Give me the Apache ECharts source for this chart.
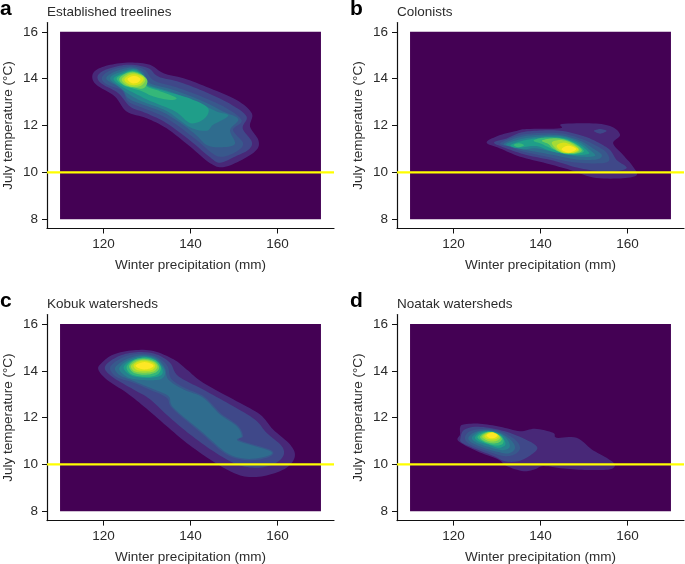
<!DOCTYPE html>
<html>
<head>
<meta charset="utf-8">
<title>Treeline density panels</title>
<script src="https://cdn.jsdelivr.net/npm/echarts@6/dist/echarts.min.js"></script>
<style>
  html, body { margin: 0; padding: 0; background: #fff; }
  #chart { width: 685px; height: 564px; }
</style>
</head>
<body>
<div id="chart"></div>
<script>
// -- Tick labels and the rectangle the density was evaluated on --
const xTicks = [120, 140, 160];
const yTicks = [8, 10, 12, 14, 16];
const densityXRange = [110, 170];
const densityYRange = [8, 16];
const thresholdTemp = 10;

// viridis bands, index 0 is the lowest density
const bandColors = ['#440154', '#482878', '#3f4889', '#38588c', '#2f6c8e', '#26828e',
  '#1f9e89', '#35b779', '#6ece58', '#a5db36', '#d8e219', '#fde725'];

// -- Contours: [precipitation mm, temperature C] --
const treelineLevels = [1, 2, 3, 4, 5, 6, 7, 8, 9, 10, 11];
const treelineContours = [
  [[117.4,14.09],[118.4,14.38],[121.5,14.59],[126.1,14.69],[130.7,14.59],[133.8,14.23],[138.4,14.02],[144.5,13.59],[150.6,13.09],[154.1,12.52],[153.7,11.95],[155.6,11.38],[155.2,10.96],[151.8,10.53],[147.5,10.22],[144.5,10.39],[139.9,11.1],[134.5,11.88],[129.9,12.31],[125.3,12.6],[122.6,13.24],[118.4,13.73]],
  [[118.6,14.06],[119.6,14.3],[122.3,14.49],[126.1,14.6],[130.3,14.45],[132.6,14.09],[137.6,13.85],[143.7,13.41],[149.5,12.88],[152.9,12.38],[152,11.88],[154.1,11.31],[153.3,10.96],[150.2,10.67],[146.8,10.41],[144.5,10.64],[139.9,11.36],[134.5,12.1],[129.9,12.52],[126.1,12.81],[123.4,13.38],[119.6,13.78]],
  [[119.6,14.02],[120.9,14.29],[123.4,14.46],[126.5,14.53],[129.5,14.38],[131.6,13.92],[136.8,13.63],[142.9,13.21],[148.3,12.74],[151.8,12.21],[149.8,11.81],[152.1,11.24],[150.6,10.89],[147.5,10.67],[145.2,10.79],[140.6,11.5],[134.5,12.31],[129.2,12.74],[125.7,13.02],[124.2,13.49],[120.7,13.76]],
  [[120.6,14.02],[122.1,14.26],[124.6,14.42],[126.9,14.47],[129.2,14.26],[130.7,13.81],[136.1,13.52],[142.2,13.09],[147.5,12.6],[151,12.27],[149.1,11.81],[150.2,11.21],[146.8,11.07],[143.7,11.17],[140.6,11.7],[134.5,12.49],[129.2,12.88],[125.7,13.16],[124.2,13.59],[121.9,13.81]],
  [[121.5,14],[123,14.23],[126.9,14.42],[129,14.2],[130.3,13.75],[135.3,13.45],[141.4,13],[146,12.6],[148.7,12.42],[145.2,12.03],[143.7,11.78],[139.9,11.92],[134.5,12.62],[129.2,13],[126.1,13.3],[123.4,13.67]],
  [[122.3,13.99],[123.9,14.2],[126.9,14.38],[128.9,14.16],[130,13.72],[134.5,13.45],[139.9,13.15],[144,12.75],[143.2,12.3],[140,12.1],[136.5,12.6],[130.7,13.05],[126.9,13.4],[123.9,13.7]],
  [[123,13.99],[124.6,14.2],[126.9,14.33],[129.2,14.12],[129.9,13.69],[132.6,13.49],[136.7,13.19],[135.3,13.09],[131.5,13.24],[128.4,13.49],[124.9,13.69]],
  [[123.6,13.98],[124.9,14.2],[126.9,14.29],[129.2,14.12],[130.1,13.88],[129.2,13.59],[126.9,13.62],[124.7,13.73]],
  [[124.2,13.98],[125.5,14.19],[127,14.25],[129,14.12],[129.6,13.92],[128.5,13.69],[126.5,13.66],[124.9,13.78]],
  [[124.8,13.98],[125.9,14.15],[127.2,14.19],[128.8,14.09],[129.2,13.95],[128.2,13.76],[126.5,13.73],[125.3,13.83]],
  [[125.5,13.98],[126.5,14.1],[127.6,14.1],[128.5,13.98],[127.8,13.83],[126.5,13.81]]
];

const colonistLevels = [1, 2, 2, 3, 4, 5, 6, 7, 7, 8, 9, 10, 11];
const colonistContours = [
  [[127.6,11.28],[130.7,11.59],[134.5,11.77],[136.8,11.85],[144.5,11.88],[144.9,12.06],[152.1,12.09],[156.4,11.95],[158.3,11.59],[156.7,11.24],[159,10.74],[161,10.31],[162.1,9.88],[158.3,9.74],[152.1,9.78],[146.8,10.1],[141.4,10.38],[135.3,10.67],[130.7,11.02]],
  [[152.3,11.77],[153.7,11.85],[155.2,11.77],[153.7,11.65]],
  [[129.3,11.27],[132.2,11.45],[135.3,11.69],[139.1,11.78],[144.5,11.78],[149.8,11.55],[153.3,11.27],[156,10.95],[157.5,10.53],[159.8,10.17],[155.2,10.03],[149.1,10.17],[142.9,10.5],[136.8,10.74],[132.2,11.02]],
  [[130.7,11.24],[134.5,11.55],[138.4,11.67],[144.5,11.67],[149.1,11.45],[152.5,11.17],[155.2,10.84],[155.6,10.46],[152.1,10.38],[146.8,10.45],[141.4,10.67],[136.1,10.88],[132.6,11.1]],
  [[131.5,11.21],[134.9,11.49],[138.7,11.59],[144.5,11.59],[149.1,11.35],[152.1,11.02],[154.1,10.74],[152.9,10.55],[148.3,10.55],[142.9,10.74],[136.8,10.95],[133.4,11.1]],
  [[132.1,11.2],[135.3,11.41],[139.1,11.52],[144.5,11.55],[148.7,11.31],[151.4,10.95],[152.5,10.7],[149.1,10.67],[144.5,10.81],[139.1,11.02],[136.1,10.98],[133.8,11.07]],
  [[133.1,11.17],[135.7,11.34],[139.1,11.45],[144.5,11.49],[148.3,11.27],[150.6,10.95],[151,10.78],[147.5,10.74],[142.9,10.88],[139.1,11.12],[136.1,11.07],[134.1,11.05]],
  [[138.4,11.35],[140.6,11.48],[144.9,11.45],[147.9,11.24],[149.9,10.95],[149.1,10.81],[146,10.78],[142.9,10.98],[140.3,11.21]],
  [[133.8,11.17],[135.1,11.24],[136.2,11.15],[134.9,11.07]],
  [[140.3,11.35],[142.6,11.45],[145.3,11.41],[147.9,11.21],[149.5,10.95],[148.3,10.81],[145.3,10.81],[142.9,11.02],[141.8,11.21]],
  [[142.6,11.27],[144.5,11.38],[146.8,11.27],[148.9,10.98],[147.9,10.84],[145.3,10.84],[143.7,10.98]],
  [[143.7,11.12],[145.3,11.27],[147.5,11.14],[148.7,10.98],[147.5,10.84],[145.3,10.85]],
  [[144.9,11.01],[146.4,11.14],[148.2,11],[146.8,10.85],[145.4,10.9]]
];

const kobukLevels = [1, 2, 3, 4, 5, 6, 7, 8, 9, 10, 11];
const kobukContours = [
  [[118.8,14.06],[119.6,14.34],[122.3,14.7],[126.9,14.88],[131.5,14.84],[136.1,14.49],[139.1,14.06],[142.9,13.49],[150.6,12.7],[156,12.13],[159,11.49],[162.9,10.85],[164,10.35],[162.1,9.86],[157.5,9.53],[152.9,9.47],[149.1,9.71],[144.5,10.21],[139.1,10.92],[134.5,11.64],[129.2,12.49],[125.3,13.06],[120.7,13.63]],
  [[120.3,14.09],[121.5,14.41],[124.6,14.7],[128.4,14.8],[132.2,14.7],[135.3,14.34],[137.2,13.77],[142.9,13.2],[149.1,12.56],[154.8,11.92],[157.5,11.35],[161,10.78],[161.3,10.35],[159,10],[155.2,9.86],[150.6,10],[145.2,10.57],[139.9,11.28],[135.3,11.99],[130.7,12.78],[126.9,13.2],[122.3,13.7]],
  [[121.5,14.09],[122.6,14.37],[125.3,14.63],[128.8,14.73],[132.2,14.6],[134.7,14.2],[135.6,13.65],[138.9,13.25],[143.1,12.9],[147,12.18],[150.9,11.66],[152.1,11.21],[151.4,11.03],[158.6,10.6],[157.8,10.3],[152.9,10.18],[148.1,10.45],[142.7,11.3],[135.9,12.38],[134.5,12.85],[130.5,13.2],[126.7,13.5],[123,13.73]],
  [[122.6,14.09],[123.8,14.34],[126.1,14.56],[129.2,14.67],[132.2,14.54],[134.1,14.13],[134.9,13.63],[138.4,13.2],[142.9,12.85],[146.8,12.13],[150.6,11.64],[151.8,11.21],[151,11],[158.3,10.57],[157.5,10.35],[152.9,10.24],[148.3,10.5],[142.9,11.35],[136.1,12.42],[134.9,12.92],[130.7,13.27],[126.9,13.56],[123.8,13.8]],
  [[123.6,14.09],[124.7,14.34],[126.9,14.54],[129.5,14.63],[132.1,14.49],[133.8,14.13],[134.1,13.84],[133,13.63],[129.9,13.6],[126.5,13.66],[124.6,13.84]],
  [[124.6,14.13],[125.7,14.37],[127.6,14.51],[129.9,14.59],[132.1,14.43],[133.4,14.13],[133.4,13.84],[131.1,13.7],[127.6,13.73],[125.7,13.87]],
  [[125.3,14.16],[126.9,14.46],[129.5,14.56],[132.1,14.43],[133.2,14.13],[132.4,13.84],[129.9,13.74],[126.5,13.84]],
  [[125.9,14.2],[127.2,14.44],[129.5,14.51],[131.8,14.4],[132.8,14.14],[131.9,13.92],[129.5,13.83],[126.9,13.92]],
  [[126.3,14.2],[127.6,14.41],[129.5,14.47],[131.6,14.37],[132.4,14.17],[131.5,13.97],[129.5,13.92],[127.2,13.97]],
  [[126.9,14.23],[128,14.39],[129.5,14.43],[131.3,14.34],[131.9,14.2],[131.1,14.03],[129.3,14],[127.6,14.04]],
  [[127.4,14.23],[128.4,14.33],[129.5,14.37],[130.8,14.31],[131.5,14.21],[130.7,14.1],[129.3,14.06],[128,14.12]]
];

const noatakLevels = [1, 2, 3, 4, 5, 6, 7, 8, 9, 10, 11];
const noatakContours = [
  [[121.5,11.57],[122.3,11.71],[126.1,11.74],[130.7,11.61],[135.3,11.42],[138.7,11.52],[142.9,11.35],[143.7,11.14],[148.3,11.14],[151.8,10.64],[155.2,10.28],[157.1,10],[156,9.79],[151.4,9.76],[146,9.81],[140.7,9.93],[138.7,9.79],[136.1,9.71],[132.2,9.93],[130.3,10.21],[125.3,10.57],[121.1,11],[121.5,11.28]],
  [[121.6,11.14],[122.4,11.47],[125.3,11.61],[129.9,11.5],[134.5,11.24],[139.1,10.78],[138,10.43],[134.9,10.14],[131.8,10.14],[129.2,10.36],[124.9,10.67],[121.9,10.93]],
  [[122.6,11.14],[123.8,11.42],[126.9,11.52],[130.7,11.42],[134.1,11.07],[135.3,10.71],[134.1,10.43],[131.5,10.36],[127.6,10.57],[123.8,10.85]],
  [[123.4,11.14],[124.9,11.38],[127.6,11.47],[130.7,11.35],[133.4,11],[134.1,10.67],[132.6,10.47],[130.3,10.53],[126.9,10.71],[124.2,10.93]],
  [[124.2,11.14],[125.7,11.38],[128,11.44],[130.7,11.32],[132.6,11],[132.8,10.71],[131.1,10.61],[128,10.75],[125.3,10.93]],
  [[124.9,11.14],[126.1,11.35],[128.4,11.41],[130.7,11.28],[131.8,11],[131.8,10.81],[130.3,10.71],[128,10.85],[125.9,10.97]],
  [[125.5,11.15],[126.7,11.34],[128.5,11.4],[130.5,11.27],[131.5,11.04],[131.1,10.85],[129.5,10.81],[127.2,10.93]],
  [[126.1,11.17],[127.2,11.34],[128.8,11.38],[130.5,11.24],[131.1,11.07],[130.3,10.93],[128.8,10.9],[127,11]],
  [[126.6,11.2],[127.6,11.34],[128.9,11.38],[130.3,11.25],[130.7,11.12],[129.8,11],[128.5,10.98],[127.2,11.07]],
  [[127.1,11.22],[128,11.34],[129,11.37],[130.1,11.28],[130.4,11.17],[129.5,11.07],[128.4,11.07],[127.5,11.12]],
  [[127.6,11.25],[128.4,11.34],[129.3,11.34],[130.1,11.25],[129.5,11.14],[128.5,11.12],[127.9,11.17]]
];

const FONT = '"Liberation Sans", Arial, sans-serif';
const TEXT_COLOR = '#2b2b2b';
const FONT_SIZE = 13.5;

// -- One panel per entry, in pixel layout terms --
const panels = [
  { letter: 'a', title: 'Established treelines', left: 47, top: 22.5, contours: treelineContours, levels: treelineLevels },
  { letter: 'b', title: 'Colonists', left: 397, top: 22.5, contours: colonistContours, levels: colonistLevels },
  { letter: 'c', title: 'Kobuk watersheds', left: 47, top: 314.6, contours: kobukContours, levels: kobukLevels },
  { letter: 'd', title: 'Noatak watersheds', left: 397, top: 314.6, contours: noatakContours, levels: noatakLevels }
];
const GRID_W = 287;
const GRID_H = 206;

// Rounds a closed outline in pixel space (Catmull-Rom), polygon's own smooth option kinks too much
function roundOutline(pts) {
  const out = [];
  const n = pts.length;
  for (let i = 0; i < n; i++) {
    const p0 = pts[(i - 1 + n) % n], p1 = pts[i], p2 = pts[(i + 1) % n], p3 = pts[(i + 2) % n];
    for (let s = 0; s < 8; s++) {
      const t = s / 8, t2 = t * t, t3 = t2 * t;
      out.push([0, 1].map(k => 0.5 * (2 * p1[k] + (p2[k] - p0[k]) * t
        + (2 * p0[k] - 5 * p1[k] + 4 * p2[k] - p3[k]) * t2
        + (3 * p1[k] - p0[k] - 3 * p2[k] + p3[k]) * t3)));
    }
  }
  return out;
}

function axisBase() {
  return {
    type: 'value',
    scale: true,
    splitLine: { show: false },
    axisLine: { onZero: false, lineStyle: { color: '#111', width: 1.2 } },
    axisTick: { length: 5, lineStyle: { color: '#111', width: 1 } },
    nameLocation: 'middle',
    nameTextStyle: { fontFamily: FONT, fontSize: FONT_SIZE, color: TEXT_COLOR }
  };
}

function labelStyle(values, margin) {
  return { customValues: values, fontFamily: FONT, fontSize: FONT_SIZE, color: TEXT_COLOR, margin };
}

const grid = [], xAxis = [], yAxis = [], series = [], title = [];

panels.forEach((p, i) => {
  // outerBoundsMode off, or v6 squeezes the lower panels to keep their names on the canvas
  grid.push({ left: p.left, top: p.top, width: GRID_W, height: GRID_H, outerBoundsMode: 'none' });

  const xBase = axisBase();
  xAxis.push({
    ...xBase, gridIndex: i, min: 107, max: 173, position: 'bottom',
    name: 'Winter precipitation (mm)', nameGap: 29.5,
    axisTick: { ...xBase.axisTick, customValues: xTicks },
    axisLabel: labelStyle(xTicks, 9)
  });
  const yBase = axisBase();
  yAxis.push({
    ...yBase, gridIndex: i, min: 7.6, max: 16.4, position: 'left',
    name: 'July temperature (°C)', nameGap: 32,
    axisTick: { ...yBase.axisTick, customValues: yTicks },
    axisLabel: labelStyle(yTicks, 9)
  });

  // Dark rectangle of the density surface
  series.push({
    type: 'custom', xAxisIndex: i, yAxisIndex: i, silent: true, z: 1,
    data: [[densityXRange[0], densityYRange[1], densityXRange[1], densityYRange[0]]],
    renderItem: (params, api) => {
      const a = api.coord([api.value(0), api.value(1)]);
      const b = api.coord([api.value(2), api.value(3)]);
      return {
        type: 'rect',
        shape: { x: a[0], y: a[1], width: b[0] - a[0], height: b[1] - a[1] },
        style: { fill: bandColors[0] }
      };
    }
  });

  // Filled density bands, painted low to high
  series.push({
    type: 'custom', xAxisIndex: i, yAxisIndex: i, silent: true, z: 2,
    data: p.contours.map((c, n) => [n]),
    renderItem: (params, api) => {
      const n = params.dataIndex;
      return {
        type: 'polygon',
        shape: { points: roundOutline(p.contours[n].map(pt => api.coord(pt))) },
        style: { fill: bandColors[p.levels[n]] }
      };
    }
  });

  // Threshold line runs the full axis width
  series.push({
    type: 'line', xAxisIndex: i, yAxisIndex: i, silent: true, z: 3,
    symbol: 'none', animation: false,
    lineStyle: { color: '#ffff00', width: 2.2 },
    data: [[107, thresholdTemp], [173, thresholdTemp]]
  });

  title.push({
    text: p.letter, left: p.left - 47, top: p.top - 24, padding: 0,
    textStyle: { fontFamily: FONT, fontSize: 21, fontWeight: 'bold', color: '#000' }
  });
  title.push({
    text: p.title, left: p.left, top: p.top - 17, padding: 0,
    textStyle: { fontFamily: FONT, fontSize: FONT_SIZE, fontWeight: 'normal', color: TEXT_COLOR }
  });
});

const chart = echarts.init(document.getElementById('chart'), null, { renderer: 'canvas' });
chart.setOption({ animation: false, title, grid, xAxis, yAxis, series });
</script>
</body>
</html>
